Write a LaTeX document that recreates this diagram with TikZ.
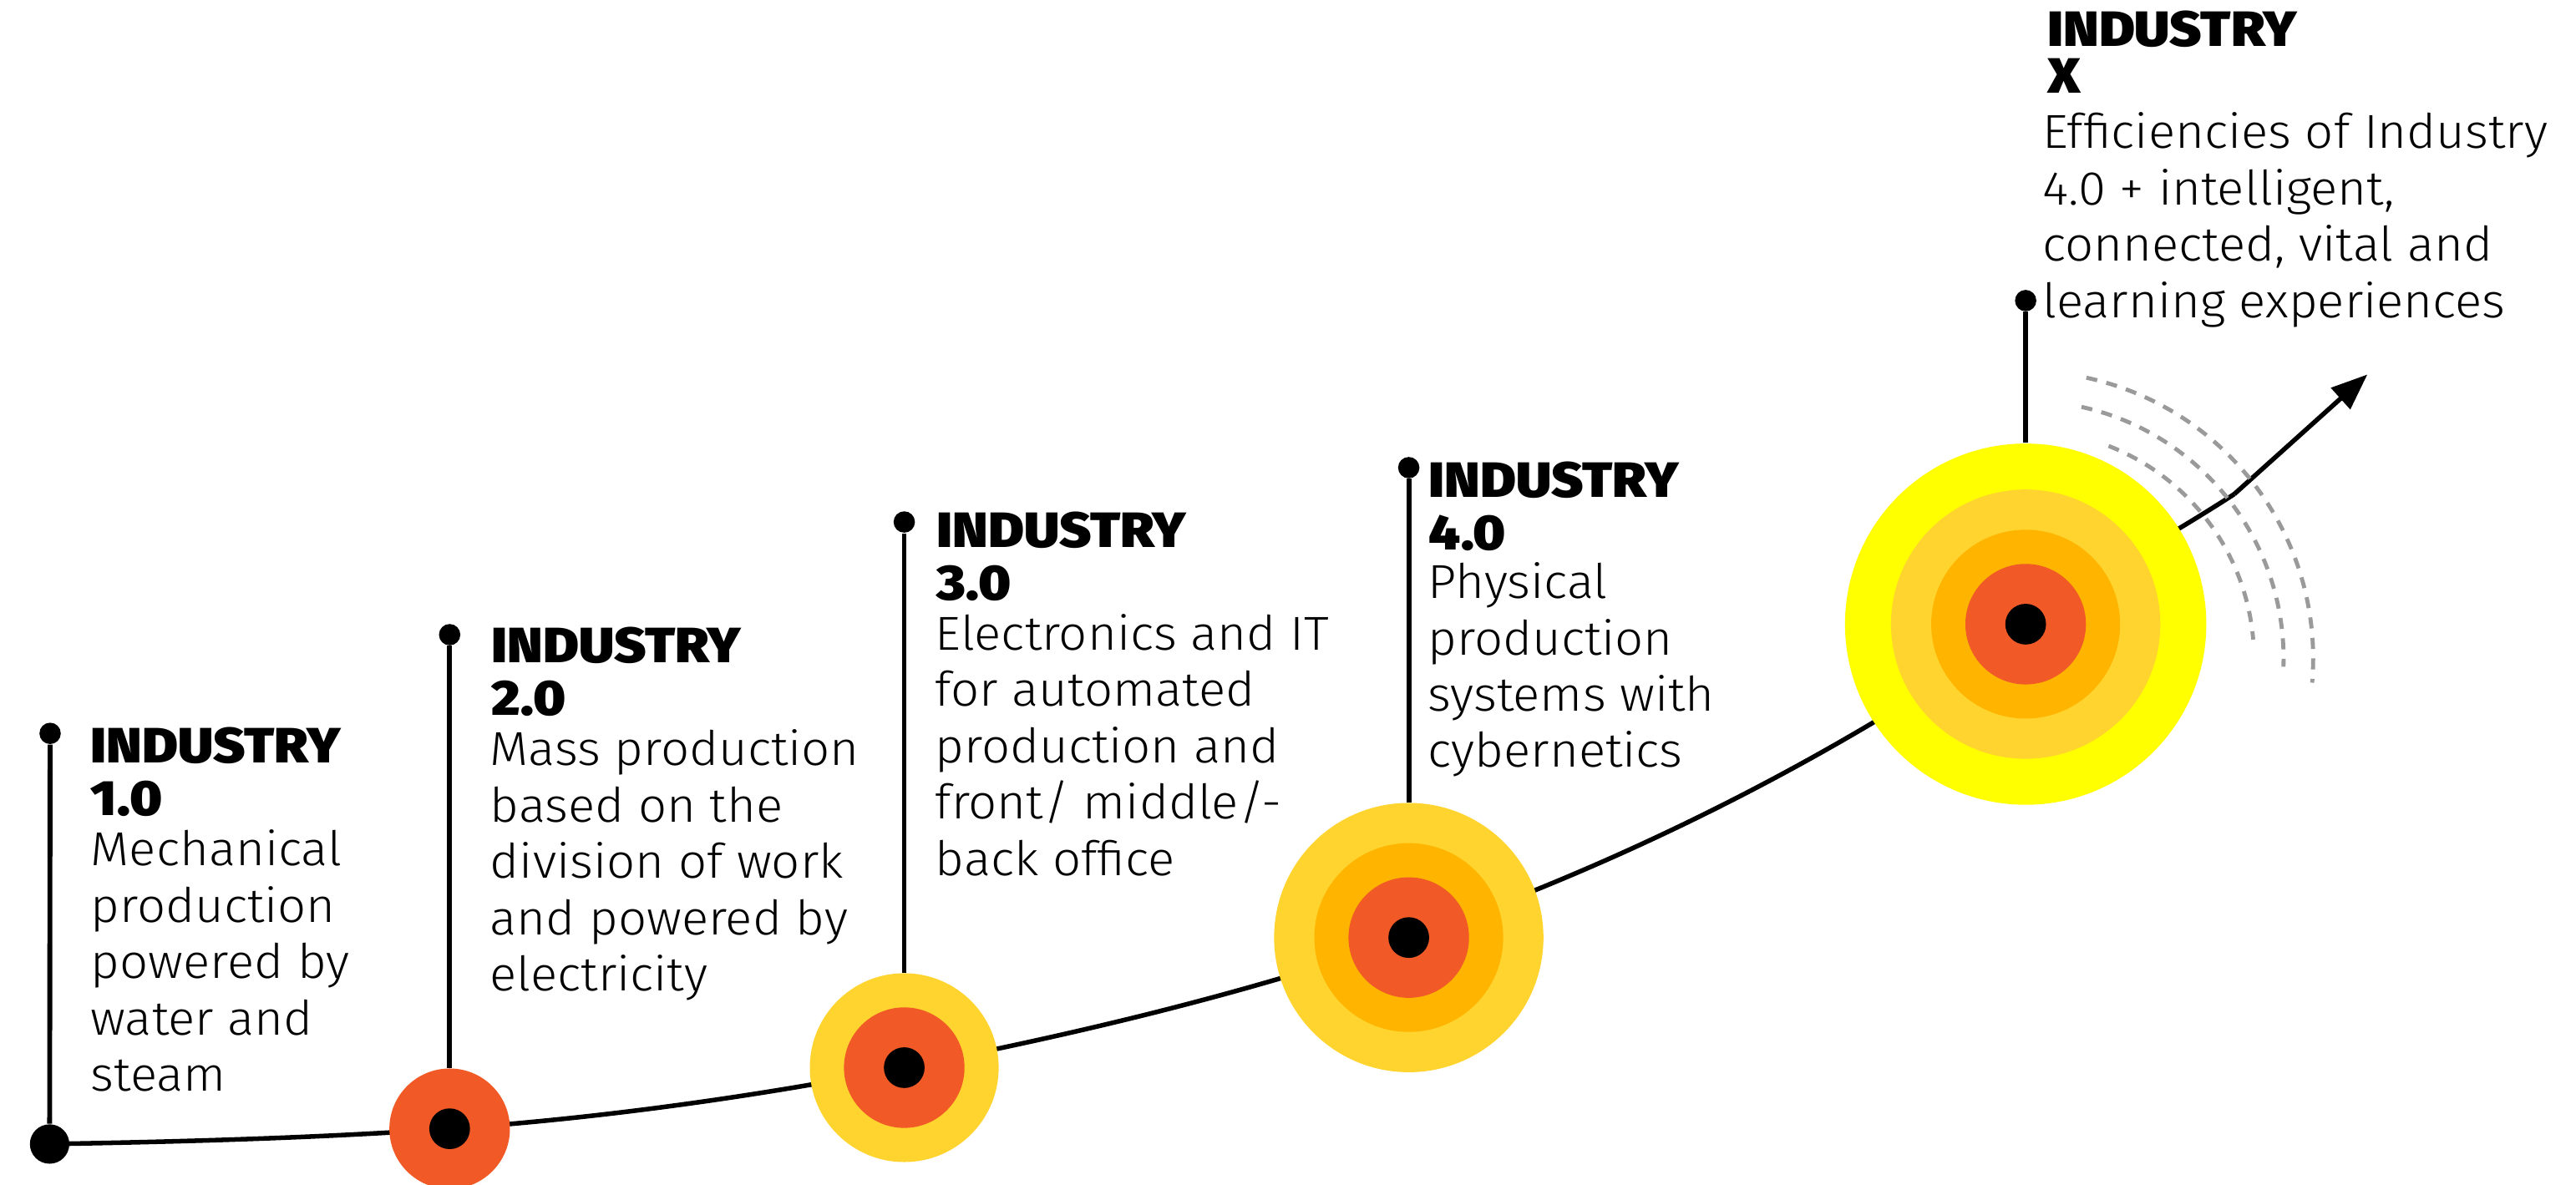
\documentclass[tikz,border=0pt]{standalone}
\usepackage{fontspec}
\usepackage{tikz}
\usetikzlibrary{calc}
\usetikzlibrary{arrows.meta}
\usepackage{xcolor}

\newfontfamily\headfont{Fira Sans Black}[FakeStretch=1.1]
\newfontfamily\bodyfont{Fira Sans Light}[FakeStretch=1.05]

\definecolor{ringYellow}{HTML}{FFFF00}
\definecolor{ringGold}{HTML}{FFD42F}
\definecolor{ringAmber}{HTML}{FFB400}
\definecolor{ringOrange}{HTML}{F15A26}
\definecolor{waveGray}{HTML}{9A9A9A}

\begin{document}
\begin{tikzpicture}[x=0.02cm, y=-0.02cm,
ring/.style={circle, inner sep=0pt, minimum size=#1*0.04cm},
pin/.style={circle, fill=black, inner sep=0pt, minimum size=0.26cm},
stem/.style={line width=1.7pt},
curve/.style={line width=1.6pt},
wave/.style={waveGray, line width=1.4pt, dash pattern=on 0.135cm off 0.115cm},
head/.style={anchor=base west, inner sep=0pt, align=left, font={\headfont\fontsize{17.2pt}{18.3pt}\selectfont}},
body/.style={anchor=base west, inner sep=0pt, align=left, font={\bodyfont\fontsize{16.5pt}{19.5pt}\selectfont}}]

\useasboundingbox (0,0) rectangle (1568,721);
\fill[white] (0,0) rectangle (1568,721);

\coordinate (o0) at (30.2,696.5);
\coordinate (o2) at (273.7,687.2);
\coordinate (o3) at (550.4,650);
\coordinate (o4) at (857.5,570.8);
\coordinate (oX) at (1233,380);
\coordinate (bend) at (1360,300.8);
\coordinate (tip) at (1441,228);

% timeline
\draw[curve] (o0) .. controls (111.2,695.1) and (192.9,692.8) .. (o2)
  .. controls (366.5,680.7) and (459.1,667.7) .. (o3)
  .. controls (654.4,629.8) and (757.3,605.3) .. (o4)
  .. controls (989.9,525.2) and (1118.3,460.3) .. (oX)
  .. controls (1274,351.3) and (1318.1,328) .. (bend);
\draw[curve, -{Triangle[length=0.44cm, width=0.34cm]}] (bend) -- (tip);

% waves
\coordinate (wc) at (1233,401);
\draw[wave] ($(wc)+(-77.8:175)$) arc[start angle=-77.8, end angle=4.8, radius=175];
\draw[wave] ($(wc)+(-77.5:157)$) arc[start angle=-77.5, end angle=1.8, radius=157];
\draw[wave] ($(wc)+(-68.7:139)$) arc[start angle=-68.7, end angle=-4.8, radius=139];

% rings
\node[ring=12, fill=black] (p0) at (o0) {};

\node[ring=36.7, fill=ringOrange] (c2) at (o2) {};
\node[ring=12.4, fill=black] (c2core) at (o2) {};

\node[ring=57.5, fill=ringGold] (c3) at (o3) {};
\node[ring=36.7, fill=ringOrange] (c3mid) at (o3) {};
\node[ring=12.4, fill=black] (c3core) at (o3) {};

\node[ring=82, fill=ringGold] (c4) at (o4) {};
\node[ring=57.5, fill=ringAmber] (c4amb) at (o4) {};
\node[ring=36.7, fill=ringOrange] (c4mid) at (o4) {};
\node[ring=12.4, fill=black] (c4core) at (o4) {};

\node[ring=110, fill=ringYellow] (cX) at (oX) {};
\node[ring=82, fill=ringGold] (cXgold) at (oX) {};
\node[ring=57.5, fill=ringAmber] (cXamb) at (oX) {};
\node[ring=36.7, fill=ringOrange] (cXmid) at (oX) {};
\node[ring=12.4, fill=black] (cXcore) at (oX) {};

% stems
\node[pin] (t1) at (30.5,446.5) {};
\node[pin] (t2) at (273.7,386.4) {};
\node[pin] (t3) at (550.4,317.8) {};
\node[pin] (t4) at (857.5,284.7) {};
\node[pin] (tX) at (1233,183) {};
\draw[stem] (p0) -- (t1);
\draw[stem] (c2.north) -- (t2);
\draw[stem] (c3.north) -- (t3);
\draw[stem] (c4.north) -- (t4);
\draw[stem] (cX.north) -- (tX);

% labels (base = last line)
\node[head] (h1) at (55,496.5) {INDUSTRY\\1.0};
\node[body] (b1) at (55,664.2) {Mechanical\\production\\powered by\\water and\\steam};

\node[head] (h2) at (299,435.5) {INDUSTRY\\2.0};
\node[body] (b2) at (298,603.2) {Mass production\\based on the\\division of work\\and powered by\\electricity};

\node[head] (h3) at (570,365.2) {INDUSTRY\\3.0};
\node[body] (b3) at (569,532.9) {Electronics and IT\\for automated\\production and\\front/ middle/-\\back office};

\node[head] (h4) at (869.5,334.7) {INDUSTRY\\4.0};
\node[body] (b4) at (869,467.2) {Physical\\production\\systems with\\cybernetics};

\node[head] (hX) at (1246,56.8) {INDUSTRY\\[-1.9pt]X};
\node[body] (bX) at (1243,193.2) {Efficiencies of Industry\\4.0 + intelligent,\\connected, vital and\\learning experiences};

\end{tikzpicture}
\end{document}
